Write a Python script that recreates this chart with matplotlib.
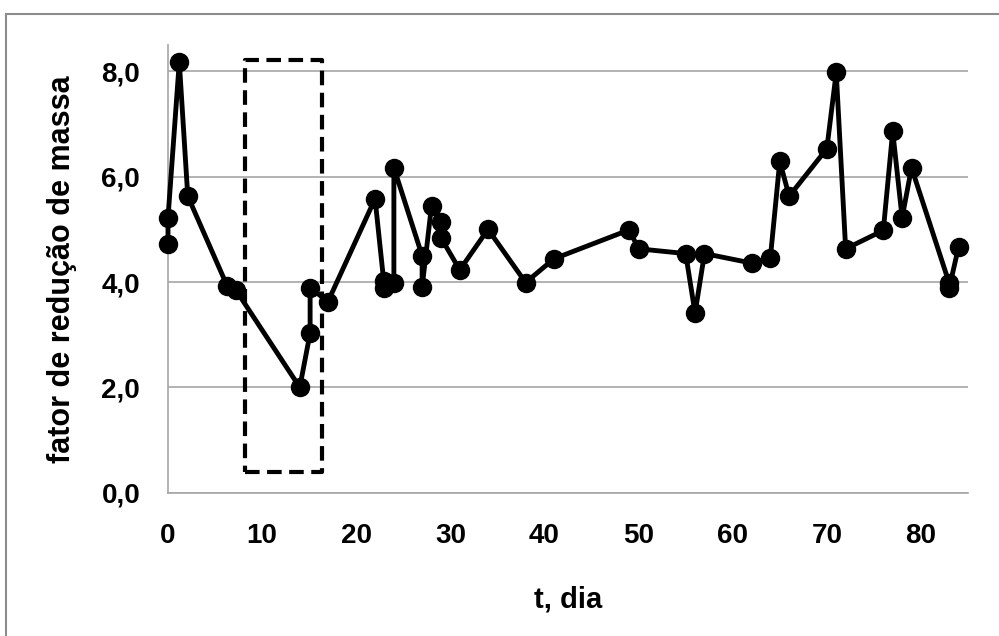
import matplotlib
matplotlib.use("Agg")
import matplotlib.pyplot as plt
from matplotlib.patches import Rectangle
from matplotlib.ticker import FuncFormatter

# Mass reduction factor over time (days), in measurement order
t_dia = [0, 0, 1.2, 2.1, 6.3, 7.2, 14, 15.1, 15.1, 17,
         22, 23, 23, 24, 24, 27, 27, 28, 29, 29,
         31, 34, 38, 41, 49, 50, 55, 56, 57, 62,
         64, 65, 66, 70, 71, 72, 76, 77, 78, 79,
         83, 83, 84]
fator = [4.73, 5.22, 8.18, 5.63, 3.92, 3.85, 2.00, 3.03, 3.89, 3.63,
         5.58, 3.88, 4.02, 3.98, 6.17, 4.50, 3.90, 5.45, 5.13, 4.84,
         4.23, 5.00, 3.99, 4.44, 4.99, 4.63, 4.54, 3.41, 4.54, 4.36,
         4.46, 6.29, 5.63, 6.53, 7.98, 4.63, 4.98, 6.86, 5.22, 6.17,
         3.98, 3.88, 4.67]

# Highlighted interval (dashed box)
box_t = [8.2, 16.4]
box_y = [0.40, 8.21]

x_ticks = [0, 10, 20, 30, 40, 50, 60, 70, 80]
y_ticks = [0, 2, 4, 6, 8]

plt.rcParams['font.family'] = ['Liberation Sans', 'DejaVu Sans']
plt.rcParams['font.weight'] = 'bold'

W, H = 999, 636
fig = plt.figure(figsize=(W / 100, H / 100), dpi=100)

# chart frame (left and top edges visible)
fig.patches.append(Rectangle((6 / W, -0.2), 2.0, 1.2 - 14 / H,
                             transform=fig.transFigure, fill=False,
                             edgecolor='#8c8c8c', linewidth=1.5))

ax_l, ax_r, ax_t, ax_b = 168, 968, 45, 492.7
ax = fig.add_axes([ax_l / W, 1 - ax_b / H, (ax_r - ax_l) / W, (ax_b - ax_t) / H])

grid_c = '#a6a6a6'
ax.set_xlim(0, 85)
ax.set_ylim(0, 8.5)
ax.set_yticks(y_ticks)
ax.set_xticks(x_ticks)
ax.yaxis.grid(True, color=grid_c, linewidth=1.2)
ax.set_axisbelow(True)
for s in ['top', 'right']:
    ax.spines[s].set_visible(False)
for s in ['left', 'bottom']:
    ax.spines[s].set_color(grid_c)
    ax.spines[s].set_linewidth(1.2)

ax.yaxis.set_major_formatter(FuncFormatter(lambda v, p: f"{v:.1f}".replace('.', ',')))
ax.tick_params(axis='both', length=0, labelsize=20)
ax.tick_params(axis='y', pad=20)
ax.tick_params(axis='x', pad=22)

ax.plot(t_dia, fator, color='black', linewidth=3.5, marker='o',
        markersize=13, clip_on=False, zorder=3, solid_joinstyle='round')

ax.add_patch(Rectangle((box_t[0], box_y[0]), box_t[1] - box_t[0], box_y[1] - box_y[0],
                       fill=False, edgecolor='black', linewidth=3,
                       linestyle=(0, (3.5, 1.8)), joinstyle='round', zorder=4,
                       clip_on=False))

ax.set_xlabel('t, dia', fontsize=21, fontweight='bold')
ax.xaxis.label.set_va('center')
ax.xaxis.set_label_coords(0.5, (ax_b - 600) / (ax_b - ax_t))
ax.set_ylabel('fator de redução de massa', fontsize=22, fontweight='bold')
ax.yaxis.label.set_va('center')
ax.yaxis.set_label_coords((62 - ax_l) / (ax_r - ax_l), 0.5)

fig.savefig('out.png', dpi=100)
